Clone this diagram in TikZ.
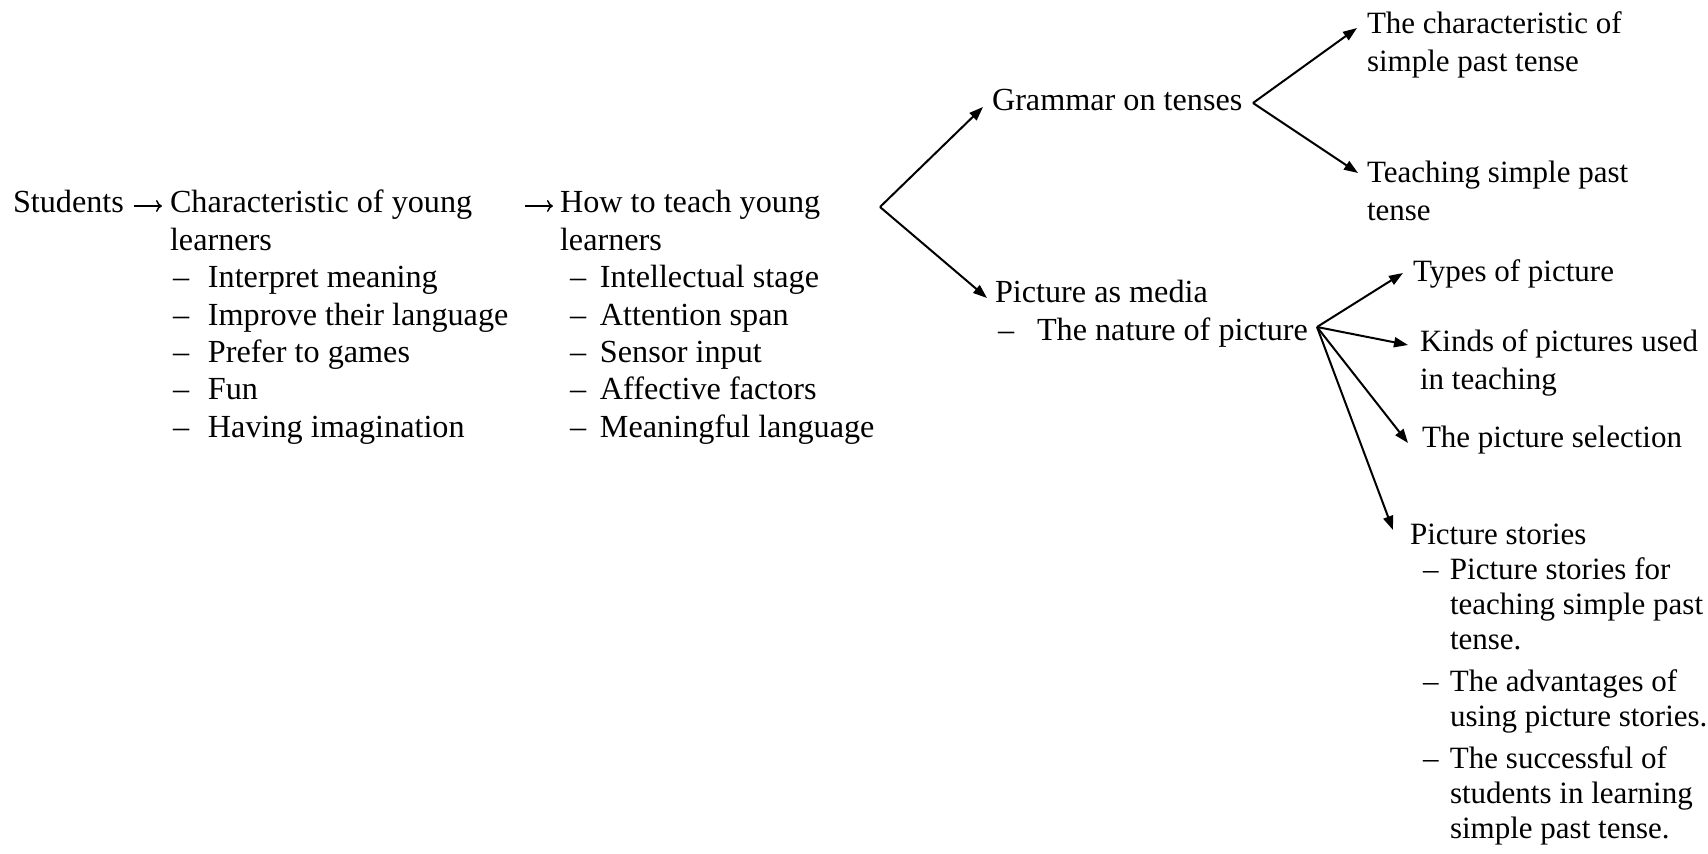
\documentclass[tikz,border=0pt]{standalone}
\usepackage{fontspec}
\setmainfont{Liberation Serif}
\usetikzlibrary{arrows.meta}
\newcommand\blk[1]{\begin{tabular}[t]{@{}l@{}}#1\end{tabular}}
\newcommand\itm[3]{\makebox[#2][l]{\hspace*{#1}–}#3}
\begin{document}
\begin{tikzpicture}[x=0.5pt,y=-0.5pt,
  every node/.style={inner sep=0pt, outer sep=0pt, anchor=base west, font=\fontsize{15.5}{18.6}\selectfont},
  big/.style={font=\fontsize{16.1}{18.7}\selectfont},
  arr/.style={line width=1pt, -{Triangle[length=7pt,width=5pt]}},
  garr/.style={line width=0.75pt, -{Computer Modern Rightarrow[length=3pt,width=6pt]}}]
\useasboundingbox (0,0) rectangle (1708,854);
\fill[white] (0,0) rectangle (1708,854);

\node[big] (students) at (13,213) {Students};
\node[big] (char) at (170,213) {\blk{Characteristic of young\\learners\\
  \itm{1.5pt}{19pt}{Interpret meaning}\\
  \itm{1.5pt}{19pt}{Improve their language}\\
  \itm{1.5pt}{19pt}{Prefer to games}\\
  \itm{1.5pt}{19pt}{Fun}\\
  \itm{1.5pt}{19pt}{Having imagination}}};
\node[big] (how) at (560,213) {\blk{How to teach young\\learners\\
  \itm{5pt}{20pt}{Intellectual stage}\\
  \itm{5pt}{20pt}{Attention span}\\
  \itm{5pt}{20pt}{Sensor input}\\
  \itm{5pt}{20pt}{Affective factors}\\
  \itm{5pt}{20pt}{Meaningful language}}};
\node[big] (gram) at (992,111) {Grammar on tenses};
\node[big] (pic) at (995,303) {\blk{Picture as media\\
  \itm{1.5pt}{21pt}{The nature of picture}}};
\node (charpt) at (1367,34) {\blk{The characteristic of\\simple past tense}};
\node (teach) at (1367,183) {\blk{Teaching simple past\\tense}};
\node (types) at (1413,282) {Types of picture};
\node (kinds) at (1420,352) {\blk{Kinds of pictures used\\in teaching}};
\node (sel) at (1422,448) {The picture selection};
\node[font=\fontsize{15.5}{17.5}\selectfont] (stories) at (1410,545) {\blk{Picture stories\\
  \itm{6.5pt}{20pt}{Picture stories for}\\
  \hspace*{20pt}teaching simple past\\
  \hspace*{20pt}tense.\\[3.5pt]
  \itm{6.5pt}{20pt}{The advantages of}\\
  \hspace*{20pt}using picture stories.\\[3.5pt]
  \itm{6.5pt}{20pt}{The successful of}\\
  \hspace*{20pt}students in learning\\
  \hspace*{20pt}simple past tense.}};

\coordinate (fork1) at (880,207);
\coordinate (fork2) at (1253,103);
\coordinate (fork3) at (1317,327);

\draw[garr] ([xshift=5pt,yshift=3.5pt]students.base east) -- ([xshift=-4pt,yshift=3.5pt]char.base west);
\draw[garr] ([xshift=8.5pt,yshift=3.5pt]char.base east) -- ([xshift=-3.5pt,yshift=3.5pt]how.base west);

\draw[arr] (fork1) -- ([xshift=-4.5pt,yshift=2pt]gram.base west);
\draw[arr] (fork1) -- ([xshift=-4pt,yshift=2.5pt]pic.base west);

\draw[arr] (fork2) -- ([xshift=-5pt,yshift=3pt]charpt.base west);
\draw[arr] (fork2) -- ([xshift=-4.5pt,yshift=5pt]teach.base west);

\draw[arr] (fork3) -- ([xshift=-5pt,yshift=4.5pt]types.base west);
\draw[arr] (fork3) -- ([xshift=-6pt,yshift=3.5pt]kinds.base west);
\draw[arr] (fork3) -- ([xshift=-7pt,yshift=2.5pt]sel.base west);
\draw[arr] (fork3) -- ([xshift=-8.5pt,yshift=7.5pt]stories.base west);
\end{tikzpicture}
\end{document}
